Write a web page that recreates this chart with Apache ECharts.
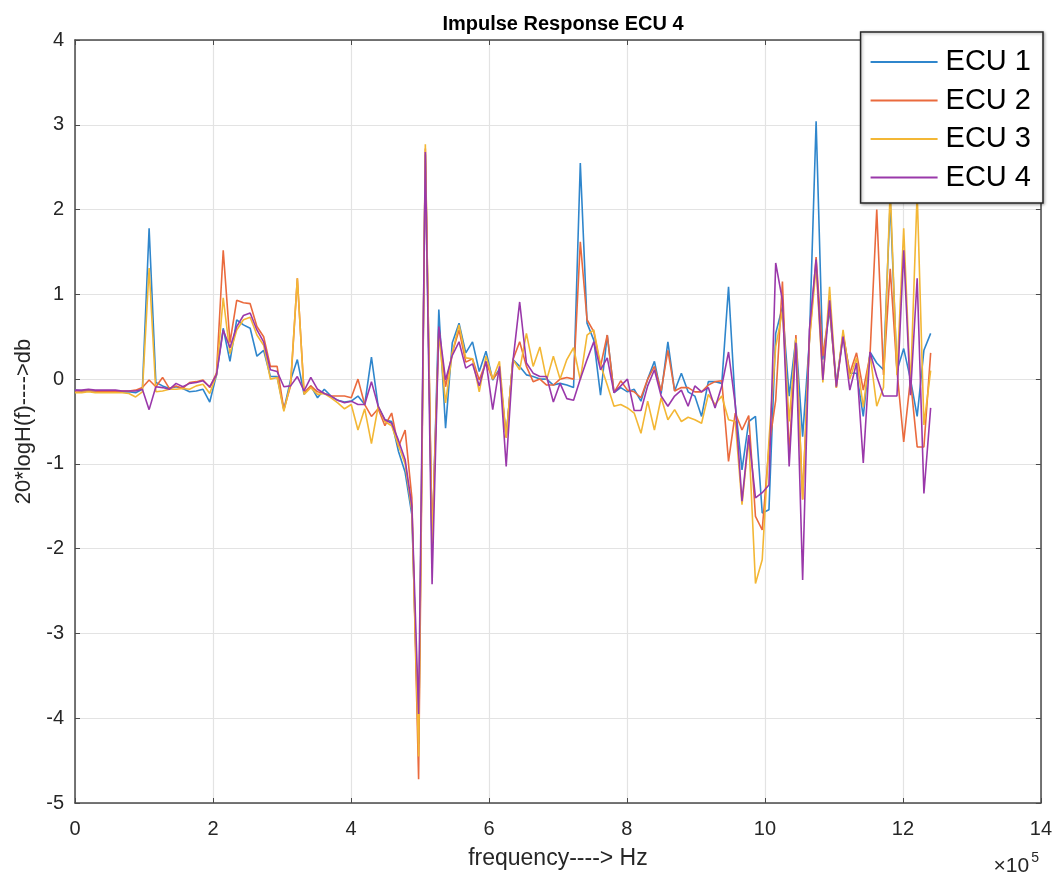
<!DOCTYPE html>
<html>
<head>
<meta charset="utf-8">
<script src="https://cdn.jsdelivr.net/npm/echarts@6/dist/echarts.min.js"></script>
<style>
html,body{margin:0;padding:0;background:#fff;}
#chart{width:1055px;height:878px;}
</style>
</head>
<body>
<div id="chart"></div>
<script>
// frequency grid step in units of 1e5 Hz (9765.625 Hz per bin)
const FREQ_STEP = 0.09765625;
const seriesNames = ['ECU 1', 'ECU 2', 'ECU 3', 'ECU 4'];
const xTicks = [0, 2, 4, 6, 8, 10, 12, 14];
const yTicks = [-5, -4, -3, -2, -1, 0, 1, 2, 3, 4];

const ecu1 = [
-0.13,-0.14,-0.13,-0.14,-0.14,-0.14,-0.15,-0.15,-0.15,-0.16,
-0.12,1.78,-0.04,-0.08,-0.11,-0.09,-0.11,-0.15,-0.14,-0.12,
-0.27,0.05,0.6,0.21,0.70,0.64,0.60,0.27,0.34,0.03,
0.03,-0.36,-0.01,0.23,-0.18,-0.08,-0.22,-0.12,-0.2,-0.25,
-0.27,-0.26,-0.2,-0.3,0.26,-0.32,-0.48,-0.5,-0.85,-1.1,
-1.6,-4.3,2.65,-2.0,0.82,-0.58,0.43,0.66,0.31,0.44,
0.09,0.33,-0.01,0.12,-0.68,0.23,0.15,0.05,0.03,0.0,
0.0,-0.07,-0.05,-0.07,-0.1,2.55,0.66,0.46,-0.19,0.52,
-0.16,-0.1,-0.15,-0.12,-0.26,0.0,0.21,-0.17,0.44,-0.14,
0.07,-0.15,-0.2,-0.44,-0.03,-0.03,-0.05,1.09,-0.3,-1.07,
-0.5,-0.44,-1.58,-1.54,0.54,0.85,-0.2,0.48,-0.68,0.45,
3.04,0.23,0.82,-0.05,0.52,0.07,0.07,-0.44,0.32,0.19,
0.11,2.1,0.1,0.36,0.0,-0.44,0.34,0.54
];
const ecu2 = [
-0.14,-0.14,-0.14,-0.14,-0.15,-0.14,-0.15,-0.14,-0.14,-0.13,
-0.1,-0.01,-0.09,0.02,-0.11,-0.08,-0.11,-0.04,-0.03,-0.01,
-0.1,0.07,1.52,0.43,0.93,0.9,0.89,0.62,0.5,0.15,
0.15,-0.36,-0.08,1.19,-0.16,-0.08,-0.15,-0.17,-0.2,-0.2,
-0.2,-0.22,0.0,-0.3,-0.44,-0.35,-0.55,-0.4,-0.8,-0.6,
-1.4,-4.72,2.72,-1.9,0.6,-0.09,0.31,0.58,0.2,0.24,
-0.01,0.2,0.0,0.1,-0.69,0.23,0.44,0.15,-0.03,0.0,
-0.07,-0.07,0.0,0.02,0.0,1.62,0.7,0.56,0.15,0.52,
-0.16,-0.02,-0.13,-0.15,-0.22,0.0,0.15,-0.14,0.34,-0.14,
-0.1,-0.1,-0.15,-0.15,-0.07,-0.03,-0.02,-0.97,-0.4,-0.6,
-0.43,-1.62,-1.78,-0.8,-0.25,1.15,-0.9,0.52,-1.42,0.46,
1.44,0.27,0.85,-0.1,0.54,0.07,0.31,-0.13,0.28,2.0,
0.05,1.3,0.1,-0.74,0.0,-0.8,-0.8,0.31
];
const ecu3 = [
-0.16,-0.16,-0.15,-0.16,-0.16,-0.16,-0.16,-0.16,-0.17,-0.21,
-0.15,1.31,-0.15,-0.14,-0.12,-0.12,-0.11,-0.12,-0.08,-0.06,
-0.17,0.05,0.96,0.3,0.58,0.7,0.73,0.52,0.4,0.0,
0.02,-0.38,-0.05,1.19,-0.18,-0.1,-0.18,-0.17,-0.22,-0.28,
-0.35,-0.3,-0.6,-0.35,-0.76,-0.32,-0.5,-0.55,-0.78,-1.0,
-1.55,-4.45,2.77,-1.95,0.55,-0.28,0.31,0.64,0.25,0.24,
-0.15,0.27,0.0,0.21,-0.69,0.23,0.11,0.54,0.15,0.38,
-0.01,0.27,0.0,0.23,0.37,-0.01,0.52,0.58,0.17,-0.07,
-0.32,-0.3,-0.34,-0.4,-0.64,-0.26,-0.6,-0.22,-0.48,-0.36,
-0.5,-0.45,-0.48,-0.52,-0.18,-0.3,-0.2,-0.48,-0.5,-1.48,
-0.69,-2.41,-2.13,-0.72,0.38,0.8,-0.5,0.48,-1.42,0.44,
1.33,-0.04,1.09,-0.1,0.58,0.0,0.25,-0.33,0.3,-0.32,
-0.1,2.25,0.05,1.78,-0.1,2.2,-0.54,0.1
];
const ecu4 = [
-0.13,-0.13,-0.12,-0.13,-0.13,-0.13,-0.13,-0.14,-0.14,-0.14,
-0.12,-0.36,-0.09,-0.1,-0.12,-0.05,-0.09,-0.05,-0.04,-0.02,
-0.09,0.05,0.58,0.37,0.62,0.75,0.78,0.58,0.44,0.11,
0.09,-0.09,-0.08,0.03,-0.14,0.02,-0.12,-0.17,-0.2,-0.25,
-0.28,-0.26,-0.3,-0.3,-0.03,-0.32,-0.48,-0.52,-0.72,-0.95,
-1.5,-3.95,2.68,-2.42,0.62,-0.01,0.28,0.44,0.13,0.18,
-0.08,0.21,-0.36,0.15,-1.03,0.21,0.91,0.19,0.07,0.03,
0.03,-0.27,-0.05,-0.23,-0.25,0.0,0.23,0.44,0.11,0.25,
-0.16,-0.08,0.0,-0.37,-0.37,-0.08,0.11,-0.2,-0.32,-0.2,
-0.13,-0.32,-0.08,-0.15,-0.1,-0.34,-0.08,0.32,-0.3,-1.44,
-0.66,-1.4,-1.34,-1.25,1.37,0.93,-1.03,0.43,-2.37,0.58,
1.41,-0.01,0.93,-0.09,0.5,-0.13,0.19,-0.99,0.32,0.03,
-0.2,-0.2,-0.2,1.52,-0.19,1.19,-1.35,-0.34
];

const colors = ['#2f86cc', '#ea6a3d', '#f3b735', '#9a38aa'];
const allValues = [ecu1, ecu2, ecu3, ecu4];

const FONT = 'Liberation Sans, Arial, Helvetica, sans-serif';
const AXIS_COLOR = '#4a4a4a';
const TEXT_COLOR = '#262626';

function toPairs(vals) {
  return vals.map((v, k) => [k * FREQ_STEP, v]);
}

const chart = echarts.init(document.getElementById('chart'), null, {renderer: 'canvas'});

const baseX = {
  type: 'value', min: xTicks[0], max: xTicks[xTicks.length - 1], interval: 2,
};
const baseY = {
  type: 'value', min: yTicks[0], max: yTicks[yTicks.length - 1], interval: 1,
};

const option = {
  animation: false,
  backgroundColor: '#ffffff',
  title: {
    text: 'Impulse Response ECU 4',
    left: 558, top: 9, textAlign: 'center',
    textStyle: {fontFamily: FONT, fontSize: 20, fontWeight: 'bold', color: '#000'}
  },
  grid: {left: 75, top: 40, right: 13, bottom: 75, containLabel: false},
  legend: {
    data: seriesNames.map((n, i) => ({name: n, icon: 'rect', itemStyle: {color: colors[i]}})),
    orient: 'vertical',
    right: 12, top: 32,
    itemWidth: 67, itemHeight: 2, itemGap: 9.5,
    padding: [15.5, 12, 11, 10],
    backgroundColor: '#ffffff',
    borderColor: '#262626', borderWidth: 1.5,
    shadowColor: 'rgba(0,0,0,0.35)', shadowBlur: 3, shadowOffsetX: 1, shadowOffsetY: 1,
    textStyle: {fontFamily: FONT, fontSize: 29, color: '#000', padding: [0, 0, 0, 3]},
    z: 10
  },
  xAxis: [
    Object.assign({}, baseX, {
      position: 'bottom',
      name: 'frequency----> Hz', nameLocation: 'middle', nameGap: 44,
      nameTextStyle: {fontFamily: FONT, fontSize: 23, color: TEXT_COLOR},
      axisLine: {show: true, onZero: false, lineStyle: {color: AXIS_COLOR, width: 1.5}},
      axisTick: {show: true, inside: true, length: 5, lineStyle: {color: AXIS_COLOR}},
      axisLabel: {fontFamily: FONT, fontSize: 20, color: TEXT_COLOR, margin: 16},
      splitLine: {show: true, lineStyle: {color: '#e3e3e3', width: 1.2}}
    }),
    Object.assign({}, baseX, {
      position: 'top',
      axisLine: {show: true, onZero: false, lineStyle: {color: AXIS_COLOR, width: 1.5}},
      axisTick: {show: true, inside: true, length: 5, lineStyle: {color: AXIS_COLOR}},
      axisLabel: {show: false},
      splitLine: {show: false}
    })
  ],
  yAxis: [
    Object.assign({}, baseY, {
      position: 'left',
      name: '20*logH(f)---->db', nameLocation: 'middle', nameGap: 24,
      nameTextStyle: {fontFamily: FONT, fontSize: 22, color: TEXT_COLOR},
      axisLine: {show: true, onZero: false, lineStyle: {color: AXIS_COLOR, width: 1.5}},
      axisTick: {show: true, inside: true, length: 5, lineStyle: {color: AXIS_COLOR}},
      axisLabel: {fontFamily: FONT, fontSize: 20, color: TEXT_COLOR, margin: 11},
      splitLine: {show: true, lineStyle: {color: '#e3e3e3', width: 1.2}}
    }),
    Object.assign({}, baseY, {
      position: 'right',
      axisLine: {show: true, onZero: false, lineStyle: {color: AXIS_COLOR, width: 1.5}},
      axisTick: {show: true, inside: true, length: 5, lineStyle: {color: AXIS_COLOR}},
      axisLabel: {show: false},
      splitLine: {show: false}
    })
  ],
  graphic: [{
    type: 'text',
    right: 16, top: 851,
    style: {
      text: '{a|×10}{b|5}',
      rich: {
        a: {fontFamily: FONT, fontSize: 21, fill: TEXT_COLOR, verticalAlign: 'bottom'},
        b: {fontFamily: FONT, fontSize: 14, fill: TEXT_COLOR, padding: [0, 0, 12, 2]}
      }
    }
  }],
  series: seriesNames.map((name, i) => ({
    name: name,
    type: 'line',
    xAxisIndex: 0, yAxisIndex: 0,
    data: toPairs(allValues[i]),
    symbol: 'none',
    showSymbol: false,
    lineStyle: {color: colors[i], width: 1.6},
    itemStyle: {color: colors[i]},
    z: 2 + i
  }))
};

chart.setOption(option);
</script>
</body>
</html>
